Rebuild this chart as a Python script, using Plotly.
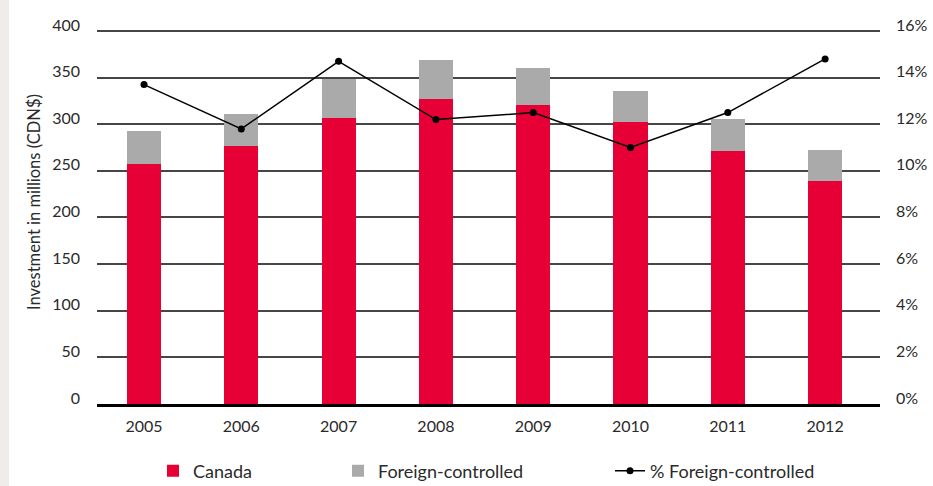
import plotly.graph_objects as go

years = ["2005", "2006", "2007", "2008", "2009", "2010", "2011", "2012"]
canada = [257, 277, 307, 327, 321, 302, 271, 239]
foreign = [36, 34, 42, 42, 39, 34, 35, 33]
pct_foreign = [13.7, 11.8, 14.7, 12.2, 12.5, 11.0, 12.5, 14.8]

left_ticks = [0, 50, 100, 150, 200, 250, 300, 350, 400]
right_ticks = [0, 2, 4, 6, 8, 10, 12, 14, 16]

RED = "#e60035"
GRAY = "#aaaaaa"
FONT = "Lato"
TXT = "#2a2a2a"

T, B, L, R = 28, 82, 97, 53
PW, PH = 933 - L - R, 486 - T - B

fig = go.Figure()
fig.add_trace(go.Bar(x=years, y=canada, name="Canada", marker=dict(color=RED, line=dict(width=0)),
                     width=0.35, legend="legend"))
fig.add_trace(go.Bar(x=years, y=foreign, name="Foreign-controlled", marker=dict(color=GRAY, line=dict(width=0)),
                     width=0.35, legend="legend2"))
fig.add_trace(go.Scatter(x=years, y=pct_foreign, name="% Foreign-controlled", yaxis="y2",
                         mode="lines+markers", line=dict(color="black", width=1.5),
                         marker=dict(color="black", size=7), legend="legend3"))

leg_y = (404 - 471) / PH
legend_common = dict(orientation="h", y=leg_y, xanchor="left", yanchor="middle",
                     font=dict(size=18, color=TXT), bgcolor="rgba(0,0,0,0)")

fig.update_layout(
    width=933, height=486,
    showlegend=True,
    margin=dict(l=L, r=R, t=T, b=B, autoexpand=False),
    paper_bgcolor="white", plot_bgcolor="white",
    barmode="stack",
    font=dict(family=FONT, size=16, color=TXT),
    xaxis=dict(type="category", range=[-0.483, 7.564], showgrid=False, showline=True,
               linecolor="black", linewidth=3, ticks="", ticklabelstandoff=6,
               tickfont=dict(size=16, color=TXT)),
    yaxis=dict(range=[0, 403.2], tickvals=left_ticks, showgrid=True, gridcolor="#464646", gridwidth=1.5,
               zeroline=False, showline=False, ticks="", ticklabelstandoff=16, ticklabelshift=-6,
               tickfont=dict(size=16, color=TXT)),
    yaxis2=dict(range=[0, 16.128], tickvals=right_ticks, ticktext=[f"{v}%" for v in right_ticks],
                overlaying="y", side="right", showgrid=False, zeroline=False, showline=False,
                ticks="", ticklabelstandoff=15, ticklabelshift=-6, tickfont=dict(size=16, color=TXT)),
    legend=dict(x=(153 - L) / PW, **legend_common),
    legend2=dict(x=(338 - L) / PW, **legend_common),
    legend3=dict(x=(610 - L) / PW, **legend_common),
    annotations=[dict(text="Investment in millions (CDN$)", textangle=-90, xref="paper", yref="paper",
                      x=(34 - L) / PW, y=(404 - 202) / PH, xanchor="center", yanchor="middle",
                      showarrow=False, font=dict(size=16.5, color=TXT))],
    shapes=[dict(type="rect", xref="paper", yref="paper", x0=-L / PW, x1=(9 - L) / PW,
                 y0=-B / PH, y1=1 + T / PH, fillcolor="#eeede9", line=dict(width=0), layer="below")],
)

fig.write_html("out.html", config={"displayModeBar": False},
               post_script="document.body.style.margin='0';document.body.style.overflow='hidden';")
